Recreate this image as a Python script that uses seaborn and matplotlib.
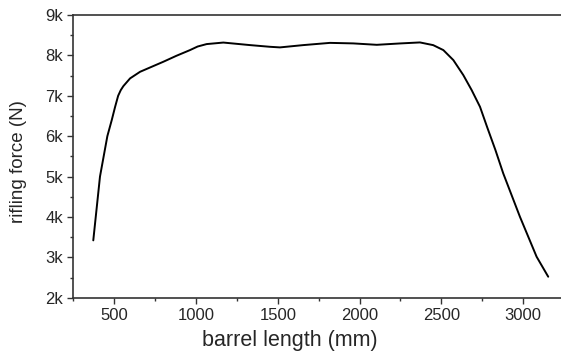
import matplotlib
matplotlib.use("Agg")
import matplotlib.pyplot as plt
import seaborn as sns
import pandas as pd
from matplotlib.ticker import MultipleLocator, FixedLocator

barrel_length = [372, 413, 458, 485, 505, 524, 540, 556, 597, 658, 730, 800, 880,
                 963, 1010, 1065, 1167, 1330, 1452, 1513, 1656, 1819, 1961, 2105,
                 2247, 2369, 2450, 2512, 2573, 2634, 2685, 2736, 2780, 2830, 2878,
                 2980, 3082, 3153]
rifling_force = [3420, 5000, 6000, 6400, 6720, 7000, 7140, 7240, 7431, 7594, 7720,
                 7842, 7990, 8131, 8220, 8280, 8318, 8255, 8213, 8198, 8255, 8310,
                 8297, 8262, 8296, 8321, 8254, 8131, 7884, 7512, 7141, 6727, 6220,
                 5660, 5079, 4005, 3015, 2520]
y_ticks = [2000, 3000, 4000, 5000, 6000, 7000, 8000, 9000]
y_tick_labels = ["2k", "3k", "4k", "5k", "6k", "7k", "8k", "9k"]
x_ticks = [500, 1000, 1500, 2000, 2500, 3000]

df = pd.DataFrame({"barrel length (mm)": barrel_length, "rifling force (N)": rifling_force})

sns.set_style("white")
plt.rcParams["font.family"] = ["Liberation Sans", "DejaVu Sans"]

fig = plt.figure(figsize=(5.61, 3.54), dpi=100)
ax = fig.add_axes([0.1307, 0.159, 1.0055 - 0.1307, 0.9576 - 0.159])
sns.lineplot(data=df, x="barrel length (mm)", y="rifling force (N)", ax=ax,
             color="black", linewidth=1.4)

ax.set_xlim(250, 3250)
ax.set_ylim(2000, 9000)
ax.xaxis.set_major_locator(FixedLocator(x_ticks))
ax.xaxis.set_minor_locator(MultipleLocator(250))
ax.yaxis.set_major_locator(FixedLocator(y_ticks))
ax.yaxis.set_minor_locator(MultipleLocator(500))
ax.set_yticks(y_ticks)
ax.set_yticklabels(y_tick_labels)

ax.tick_params(axis="both", which="major", direction="out", length=4, width=1,
               color="#333333", labelsize=12, pad=3.5, bottom=True, left=True,
               top=False, right=False)
ax.tick_params(axis="both", which="minor", direction="out", length=2.5, width=1,
               color="#333333", bottom=True, left=True, top=False, right=False)

for side in ["left", "bottom", "top"]:
    ax.spines[side].set_visible(True)
    ax.spines[side].set_color("#333333")
    ax.spines[side].set_linewidth(1.2)
ax.spines["right"].set_visible(False)

ax.set_xlabel("barrel length (mm)", fontsize=15.5)
ax.set_ylabel("rifling force (N)", fontsize=13.5)
ax.xaxis.set_label_coords(0.4415, -0.115)
ax.yaxis.set_label_coords(-0.094, 0.48)

fig.savefig("out.png", dpi=100)
